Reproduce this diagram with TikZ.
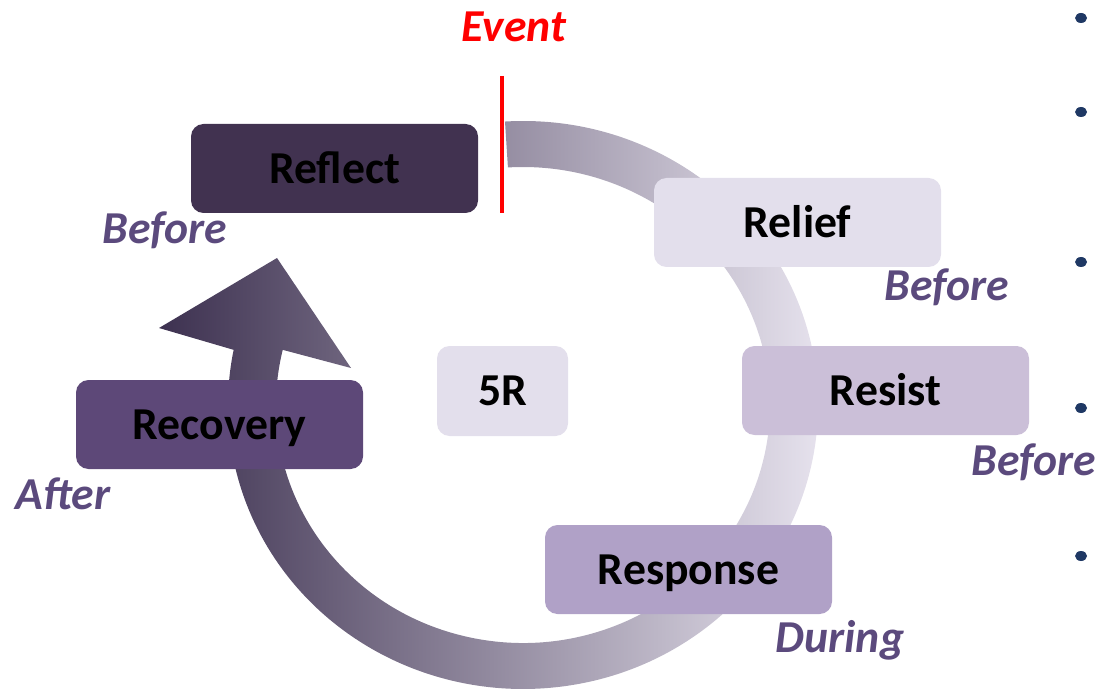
\documentclass[tikz,border=0pt]{standalone}
\usepackage{fontspec}
\setmainfont{Carlito}
\usetikzlibrary{calc}
\definecolor{reflectc}{HTML}{413250}
\definecolor{reliefc}{HTML}{E3DFEC}
\definecolor{resistc}{HTML}{CBBFD8}
\definecolor{responsec}{HTML}{B0A1C7}
\definecolor{recoveryc}{HTML}{5D4878}
\definecolor{labelc}{HTML}{5B4A7D}
\definecolor{arcdark}{HTML}{3D3150}
\definecolor{arcmid}{HTML}{C4BDCD}
\definecolor{arclight}{HTML}{E8E4EF}
\definecolor{bulc}{HTML}{1F3864}
\tikzset{ r/.style = { rounded corners = 2.5mm
                     , inner sep      = 0pt
                     , minimum width  = 57.4mm
                     , minimum height = 17.8mm
                     , text height    = 16.7pt
                     , text depth     = 0pt
                     , font = \bfseries\fontsize{26}{30}\selectfont
                     },
          w/.style = { text  = labelc
                     , inner sep = 0pt
                     , font  = \bfseries\itshape\fontsize{26}{30}\selectfont
                     }
        }

\begin{document}
\begin{tikzpicture}
    \useasboundingbox (0,0) rectangle (22,13.82);
    \coordinate (c) at (10.46,5.72);
    % the cycle arrow
    \shade[left color=arcdark, middle color=arcmid, right color=arclight]
        ($(c)+(93.5:5.90 and 5.68)$)
        arc[start angle=93.5, end angle=-191.2, x radius=5.90, y radius=5.68]
        -- (3.18,7.26) -- (5.54,8.66) -- (7.02,6.46)
        -- ($(c)+(-193.4:4.94 and 4.76)$)
        arc[start angle=-193.4, end angle=93.5, x radius=4.94, y radius=4.76]
        -- cycle;

    \node[r, fill=reflectc]  (reflect)  at (6.69,10.45) {Reflect};
    \node[r, fill=reliefc]   (relief)   at (15.95,9.37) {Relief};
    \node[r, fill=resistc]   (resist)   at (17.71,6.01) {Resist};
    \node[r, fill=responsec] (response) at (13.77,2.43) {Response};
    \node[r, fill=recoveryc] (recovery) at (4.39,5.33)  {Recovery};
    \node[r, fill=reliefc, minimum width=26.2mm, minimum height=18mm] (fiveR) at (10.05,6.0) {5R};

    \node[w, text=red] (event) at (10.28,13.28) {Event};
    \coordinate (evtop) at (10.04,12.30);
    \coordinate (evbot) at (10.04,9.56);
    \draw[red, line width=2.3pt] (evtop) -- (evbot);

    \node[w] (bef1)   at (3.30,9.22)  {Before};
    \node[w] (bef2)   at (18.94,8.08) {Before};
    \node[w] (bef3)   at (20.68,4.58) {Before};
    \node[w] (after)  at (1.26,3.94)  {After};
    \node[w] (during) at (16.80,1.02) {During};

    %bullets of the cut list
    \foreach \y in {13.46, 11.58, 8.58, 5.66, 2.70}
        \fill[bulc] (21.62,\y) ellipse (0.12 and 0.10);
\end{tikzpicture}
\end{document}
